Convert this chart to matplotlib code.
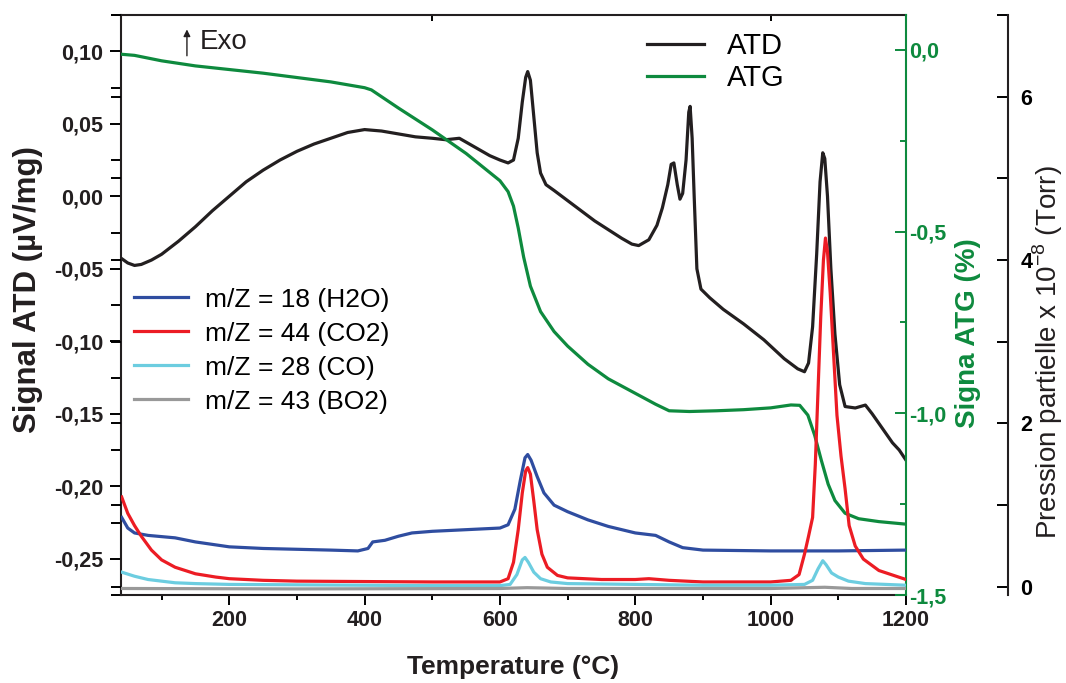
import numpy as np
import matplotlib
matplotlib.use("Agg")
import matplotlib.pyplot as plt
from matplotlib.ticker import MultipleLocator, FixedLocator, FuncFormatter
from matplotlib.lines import Line2D

plt.rcParams['font.family'] = ['Liberation Sans', 'DejaVu Sans']
plt.rcParams['mathtext.fontset'] = 'custom'
plt.rcParams['mathtext.rm'] = 'Liberation Sans'

# ATD signal (uV/mg) vs temperature
atd_T = [41, 50, 60, 70, 85, 100, 125, 150, 175, 200, 225, 250, 275, 300, 325, 350,
         375, 400, 425, 450, 475, 500, 520, 540, 555, 570, 585, 600, 612, 620, 627,
         633, 638, 641, 645, 650, 655, 660, 668, 680, 700, 720, 740, 760, 780, 795,
         805, 820, 832, 840, 848, 853, 857, 862, 866, 870, 875, 879, 881, 884, 887,
         891, 897, 910, 930, 960, 990, 1020, 1040, 1050, 1056, 1062, 1068, 1073,
         1077, 1080, 1084, 1089, 1095, 1102, 1110, 1125, 1140, 1150, 1165, 1180,
         1190, 1200]
atd_val = [-0.043, -0.046, -0.0477, -0.047, -0.044, -0.040, -0.031, -0.021, -0.010,
           0.000, 0.010, 0.018, 0.025, 0.031, 0.036, 0.040, 0.044, 0.046, 0.045,
           0.043, 0.041, 0.040, 0.039, 0.040, 0.036, 0.032, 0.028, 0.025, 0.023,
           0.025, 0.040, 0.065, 0.082, 0.086, 0.080, 0.055, 0.030, 0.016, 0.008,
           0.004, -0.003, -0.010, -0.017, -0.023, -0.029, -0.033, -0.034, -0.030,
           -0.020, -0.008, 0.008, 0.022, 0.023, 0.008, -0.002, 0.002, 0.025, 0.058,
           0.062, 0.040, 0.000, -0.050, -0.064, -0.070, -0.078, -0.088, -0.099,
           -0.112, -0.119, -0.121, -0.115, -0.090, -0.040, 0.010, 0.030, 0.026,
           0.000, -0.050, -0.095, -0.130, -0.145, -0.146, -0.144, -0.150, -0.160,
           -0.170, -0.175, -0.182]

# ATG mass loss (%)
atg_T = [41, 60, 100, 150, 200, 250, 300, 350, 400, 410, 430, 450, 500, 550, 600,
         612, 620, 627, 635, 645, 660, 680, 700, 730, 760, 800, 830, 850, 880, 920,
         960, 1000, 1030, 1043, 1055, 1065, 1075, 1085, 1095, 1110, 1130, 1160, 1200]
atg_val = [-0.012, -0.015, -0.030, -0.044, -0.054, -0.064, -0.076, -0.088, -0.104,
           -0.110, -0.135, -0.160, -0.220, -0.285, -0.360, -0.390, -0.430, -0.490,
           -0.570, -0.650, -0.720, -0.775, -0.815, -0.865, -0.905, -0.945, -0.975,
           -0.993, -0.995, -0.993, -0.990, -0.985, -0.977, -0.978, -1.005, -1.060,
           -1.130, -1.195, -1.240, -1.275, -1.290, -1.298, -1.305]

# mass spectrometry partial pressures (x 1e-8 Torr)
h2o_T = [41, 50, 60, 80, 120, 150, 200, 250, 300, 350, 390, 405, 412, 430, 450, 470,
         500, 550, 600, 612, 622, 630, 637, 641, 646, 655, 665, 680, 700, 730, 760,
         800, 830, 850, 870, 900, 1000, 1100, 1200]
h2o_P = [0.85, 0.72, 0.66, 0.63, 0.60, 0.55, 0.49, 0.47, 0.46, 0.45, 0.44, 0.47,
         0.55, 0.57, 0.62, 0.66, 0.68, 0.70, 0.72, 0.76, 0.95, 1.30, 1.58, 1.62,
         1.55, 1.35, 1.15, 1.00, 0.92, 0.82, 0.74, 0.66, 0.63, 0.55, 0.48, 0.45,
         0.44, 0.44, 0.45]

co2_T = [41, 50, 60, 70, 85, 100, 120, 150, 180, 200, 250, 300, 400, 500, 600, 612,
         620, 627, 633, 638, 641, 645, 650, 655, 662, 670, 685, 700, 750, 800, 820,
         850, 900, 950, 1000, 1030, 1042, 1050, 1056, 1062, 1066, 1070, 1074, 1078,
         1081, 1084, 1088, 1092, 1098, 1104, 1110, 1116, 1125, 1137, 1160, 1200]
co2_P = [1.10, 0.90, 0.75, 0.62, 0.45, 0.33, 0.24, 0.16, 0.12, 0.10, 0.08, 0.07,
         0.065, 0.06, 0.06, 0.10, 0.30, 0.70, 1.15, 1.42, 1.46, 1.38, 1.05, 0.70,
         0.40, 0.24, 0.14, 0.11, 0.09, 0.09, 0.10, 0.08, 0.06, 0.06, 0.06, 0.08,
         0.15, 0.40, 0.62, 0.85, 1.50, 2.40, 3.30, 4.00, 4.27, 4.10, 3.60, 3.00,
         2.10, 1.60, 1.20, 0.75, 0.50, 0.34, 0.20, 0.09]

co_T = [41, 60, 80, 120, 150, 200, 300, 400, 500, 600, 615, 625, 633, 637, 642, 650,
        660, 675, 700, 800, 900, 1000, 1050, 1062, 1070, 1077, 1082, 1090, 1100,
        1115, 1140, 1200]
co_P = [0.18, 0.13, 0.09, 0.05, 0.04, 0.03, 0.025, 0.02, 0.015, 0.015, 0.03, 0.15,
        0.33, 0.36, 0.30, 0.18, 0.10, 0.06, 0.04, 0.03, 0.02, 0.02, 0.03, 0.08,
        0.22, 0.32, 0.27, 0.17, 0.12, 0.07, 0.04, 0.02]

bo2_T = [41, 300, 600, 640, 700, 1000, 1080, 1120, 1200]
bo2_P = [-0.02, -0.025, -0.02, -0.01, -0.02, -0.02, -0.005, -0.02, -0.02]

c_atd = '#231f20'
c_atg = '#0e8a3e'
c_h2o = '#2f4da0'
c_co2 = '#ec1c24'
c_co = '#6ccde0'
c_bo2 = '#999999'

fig = plt.figure(figsize=(10.66, 6.83), dpi=100)
ax = fig.add_axes([0.1135, 0.1288, 0.7364, 0.8492])

lw = 2.3
tick_fs = 15.5
bold = {'fontweight': 'bold'}


def comma2(v, pos):
    s = f"{v:.2f}".replace('.', ',')
    return '0,00' if s == '-0,00' else s


def comma1(v, pos):
    s = f"{v:.1f}".replace('.', ',')
    return '0,0' if s == '-0,0' else s


# main ATD axis
ax.plot(atd_T, atd_val, color=c_atd, lw=lw, zorder=3)
ax.set_xlim(40, 1200)
ax.set_ylim(-0.275, 0.125)
ax.xaxis.set_major_locator(MultipleLocator(200))
ax.xaxis.set_minor_locator(MultipleLocator(100))
ax.yaxis.set_major_locator(MultipleLocator(0.05))
ax.yaxis.set_minor_locator(MultipleLocator(0.025))
ax.yaxis.set_major_formatter(FuncFormatter(comma2))
ax.tick_params(axis='x', which='major', direction='out', length=7, width=1.4,
               labelsize=tick_fs, pad=4)
ax.tick_params(axis='x', which='minor', direction='out', length=3.8, width=1.4)
ax.tick_params(axis='y', which='major', direction='out', length=8, width=1.4,
               labelsize=tick_fs, pad=5)
ax.tick_params(axis='y', which='minor', direction='out', length=7.5, width=1.4)
for lab in ax.get_xticklabels() + ax.get_yticklabels():
    lab.set_fontweight('bold')
    lab.set_color(c_atd)
for sp in ax.spines.values():
    sp.set_linewidth(1.5)
    sp.set_color(c_atd)
ax.spines['right'].set_visible(False)

# ticks of the top frame
top = ax.secondary_xaxis('top')
top.xaxis.set_major_locator(FixedLocator([500, 1000]))
top.tick_params(direction='in', length=4, width=1.4, labeltop=False)
top.spines['top'].set_visible(False)

# ATG axis
ax2 = ax.twinx()
ax2.plot(atg_T, atg_val, color=c_atg, lw=lw, zorder=2)
ax2.set_ylim(-1.5, 0.096)
ax2.yaxis.set_major_locator(MultipleLocator(0.5))
ax2.yaxis.set_minor_locator(MultipleLocator(0.25))
ax2.yaxis.set_major_formatter(FuncFormatter(comma1))
ax2.tick_params(axis='y', which='major', direction='in', length=8, width=1.4,
                color=c_atg, labelcolor=c_atg, labelsize=tick_fs, pad=2)
ax2.tick_params(axis='y', which='minor', direction='in', length=4, width=1.4,
                color=c_atg)
for lab in ax2.get_yticklabels():
    lab.set_fontweight('bold')
for name in ['left', 'top', 'bottom']:
    ax2.spines[name].set_visible(False)
ax2.spines['right'].set_color(c_atg)
ax2.spines['right'].set_linewidth(1.5)

# pressure ticks also marked on the left frame
ax4 = ax.twinx()
ax4.set_ylim(-0.1, 7.0)
ax4.yaxis.tick_left()
ax4.yaxis.set_major_locator(MultipleLocator(1))
ax4.tick_params(axis='y', direction='out', length=7.5, width=1.4, labelleft=False)
for sp in ax4.spines.values():
    sp.set_visible(False)

# partial pressure axis (mass spectrometry)
ax3 = ax.twinx()
ax3.plot(h2o_T, h2o_P, color=c_h2o, lw=lw, label='m/Z = 18 (H2O)')
ax3.plot(co2_T, co2_P, color=c_co2, lw=lw, label='m/Z = 44 (CO2)')
ax3.plot(co_T, co_P, color=c_co, lw=lw, label='m/Z = 28 (CO)')
ax3.plot(bo2_T, bo2_P, color=c_bo2, lw=lw, label='m/Z = 43 (BO2)')
ax3.set_ylim(-0.1, 7.0)
ax3.spines['right'].set_position(('axes', 1.1296))
ax3.yaxis.set_major_locator(MultipleLocator(2))
ax3.yaxis.set_minor_locator(MultipleLocator(1))
ax3.tick_params(axis='y', which='major', direction='in', length=8, width=1.4,
                labelsize=tick_fs, pad=9)
ax3.tick_params(axis='y', which='minor', direction='in', length=8, width=1.4)
for lab in ax3.get_yticklabels():
    lab.set_fontweight('bold')
for name in ['left', 'top', 'bottom']:
    ax3.spines[name].set_visible(False)
ax3.spines['right'].set_linewidth(1.5)
ax3.spines['right'].set_color(c_atd)
ax3.spines['right'].set_bounds(-0.1, 7.0)

# legends
ms_leg = ax3.legend(loc='upper left', bbox_to_anchor=(0.016, 0.530), frameon=False,
                    fontsize=19, handlelength=2.05, handletextpad=0.65,
                    labelspacing=0.38, borderpad=0, borderaxespad=0)
ax3.add_artist(ms_leg)
h_atd = Line2D([], [], color=c_atd, lw=lw)
h_atg = Line2D([], [], color=c_atg, lw=lw)
ax3.legend([h_atd, h_atg], ['ATD', 'ATG'], loc='upper left',
           bbox_to_anchor=(0.67, 0.97), frameon=False, fontsize=21,
           handlelength=1.95, handletextpad=0.8, labelspacing=0.12,
           borderpad=0, borderaxespad=0)

# exothermic direction marker
ax3.annotate('', xy=(0.084, 0.98), xytext=(0.084, 0.925), xycoords='axes fraction',
             arrowprops=dict(arrowstyle='-|>', color=c_atd, lw=1.0,
                             mutation_scale=10))
ax3.text(0.1, 0.953, 'Exo', transform=ax3.transAxes, fontsize=20,
         va='center', ha='left', color=c_atd)

# axis titles
fig.text(28 / 1066, 1 - 290 / 683, 'Signal ATD (µV/mg)', rotation=90, ha='center',
         va='center', fontsize=22.5, color=c_atd, **bold)
fig.text(968 / 1066, 1 - 333 / 683, 'Signa ATG (%)', rotation=90, ha='center',
         va='center', fontsize=20, color=c_atg, **bold)
fig.text(1048 / 1066, 1 - 352 / 683, 'Pression partielle x 10$^{-8}$ (Torr)',
         rotation=90, ha='center', va='center', fontsize=20, color=c_atd)
fig.text(513 / 1066, 1 - 667 / 683, 'Temperature (°C)', ha='center', va='center',
         fontsize=19, color=c_atd, **bold)

fig.savefig('out.png', dpi=100)
